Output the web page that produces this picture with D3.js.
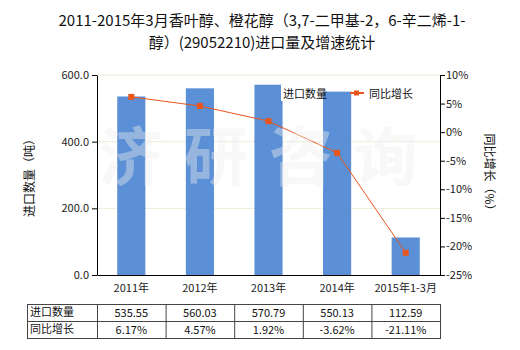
<!DOCTYPE html>
<html>
<head>
<meta charset="utf-8">
<script src="https://cdn.jsdelivr.net/npm/d3@7"></script>
<style>
  body { margin: 0; background: #fff; }
  svg { font-family: "Noto Sans CJK SC", "Noto Sans", sans-serif; }
</style>
</head>
<body>
<svg id="chart" width="520" height="350"></svg>
<script>
const categories = ['2011年', '2012年', '2013年', '2014年', '2015年1-3月'];
const importQty = [535.55, 560.03, 570.79, 550.13, 112.59];
const growth = [6.17, 4.57, 1.92, -3.62, -21.11];
const qtyLabels = ['535.55', '560.03', '570.79', '550.13', '112.59'];
const growthLabels = ['6.17%', '4.57%', '1.92%', '-3.62%', '-21.11%'];
const leftTicks = [0, 200, 400, 600];
const rightTicks = [10, 5, 0, -5, -10, -15, -20, -25];

const svg = d3.select('#chart');
const margin = { top: 75, left: 97, right: 80, bottom: 75 };
const width = 520 - margin.left - margin.right;
const height = 350 - margin.top - margin.bottom;

const barColor = '#5b8fd6';
const lineColor = '#e8561e';

// title
const title = svg.append('text')
   .attr('text-anchor', 'middle')
   .attr('font-size', 15)
   .attr('fill', '#111');
title.append('tspan').attr('x', 262).attr('y', 26)
   .text('2011-2015年3月香叶醇、橙花醇（3,7-二甲基-2，6-辛二烯-1-');
title.append('tspan').attr('x', 262).attr('y', 48)
   .text('醇）(29052210)进口量及增速统计');

const g = svg.append('g').attr('transform', `translate(${margin.left},${margin.top})`);

const x = d3.scaleBand().domain(categories).range([0, width]).paddingInner(0.59).paddingOuter(0.295);
const xc = d3.scaleBand().domain(categories).range([0, width]);
const yL = d3.scaleLinear().domain([0, 600]).range([height, 0]);
const yR = d3.scaleLinear().domain([-25, 10]).range([height, 0]);

// grid
g.selectAll('.grid').data(leftTicks.filter(d => d > 0)).join('line')
   .attr('x1', 0).attr('x2', width)
   .attr('y1', d => yL(d)).attr('y2', d => yL(d))
   .attr('stroke', '#ecebd9').attr('stroke-width', 1);

// bars
g.selectAll('.bar').data(importQty).join('rect')
   .attr('x', (d, i) => x(categories[i]))
   .attr('width', x.bandwidth())
   .attr('y', d => yL(d))
   .attr('height', d => height - yL(d))
   .attr('fill', barColor);

// watermark, drawn over the bars like the original
svg.append('text')
   .attr('x', 99).attr('y', 180)
   .attr('font-size', 64).attr('font-weight', 'bold')
   .attr('fill', '#f0f0f0').attr('opacity', 0.4)
   .attr('letter-spacing', 21)
   .text('济研咨询');

// legend (white backgrounds behind text)
const lg = g.append('g').attr('transform', `translate(0,${93 - margin.top})`);
lg.append('rect').attr('x', 281 - margin.left).attr('y', -8).attr('width', 42).attr('height', 16).attr('fill', '#fff');
lg.append('rect').attr('x', 364 - margin.left).attr('y', -8).attr('width', 50).attr('height', 16).attr('fill', '#fff');
lg.append('rect').attr('x', 270 - margin.left).attr('y', -6).attr('width', 11).attr('height', 12).attr('fill', barColor);
lg.append('text').attr('x', 283 - margin.left).attr('y', 4.5).attr('font-size', 11).attr('fill', '#111').text('进口数量');
lg.append('line').attr('x1', 350 - margin.left).attr('x2', 364 - margin.left).attr('y1', 0).attr('y2', 0)
   .attr('stroke', lineColor).attr('stroke-width', 2);
lg.append('rect').attr('x', 354 - margin.left).attr('y', -2.5).attr('width', 5).attr('height', 5).attr('fill', lineColor);
lg.append('text').attr('x', 369 - margin.left).attr('y', 4.5).attr('font-size', 11).attr('fill', '#111').text('同比增长');

// line
const line = d3.line()
   .x((d, i) => xc(categories[i]) + xc.bandwidth() / 2)
   .y(d => yR(d));
g.append('path').datum(growth)
   .attr('d', line).attr('fill', 'none')
   .attr('stroke', lineColor).attr('stroke-width', 1);
g.selectAll('.pt').data(growth).join('rect')
   .attr('x', (d, i) => xc(categories[i]) + xc.bandwidth() / 2 - 3)
   .attr('y', d => yR(d) - 3)
   .attr('width', 6).attr('height', 6)
   .attr('fill', lineColor);

// axes
const leftAxis = g.append('g')
   .call(d3.axisLeft(yL).tickValues(leftTicks).tickFormat(d3.format('.1f')).tickSize(5).tickSizeOuter(0));
const rightAxis = g.append('g').attr('transform', `translate(${width},0)`)
   .call(d3.axisRight(yR).tickValues(rightTicks).tickFormat(d => d + '%').tickSize(5).tickSizeOuter(0));
const bottomAxis = g.append('g').attr('transform', `translate(0,${height})`)
   .call(d3.axisBottom(xc).tickSize(0).tickSizeOuter(0));
[leftAxis, rightAxis, bottomAxis].forEach(a => {
   a.selectAll('path, line').attr('stroke', '#000');
   a.selectAll('text').attr('font-size', 11).attr('fill', '#222')
      .attr('font-family', '"Noto Sans CJK SC", "Noto Sans", sans-serif');
});
bottomAxis.selectAll('text').attr('dy', '1.25em');
rightAxis.selectAll('text').attr('x', 6);

// axis titles
svg.append('text')
   .attr('transform', 'translate(34,175) rotate(-90)')
   .attr('text-anchor', 'middle').attr('font-size', 12).attr('fill', '#111')
   .text('进口数量（吨）');
svg.append('text')
   .attr('transform', 'translate(485,175) rotate(90)')
   .attr('text-anchor', 'middle').attr('font-size', 12).attr('fill', '#111')
   .text('同比增长（%）');

// data table
const tableTop = 304, rowH = 17, tableLeft = 27;
const colX = [tableLeft].concat(categories.map((c, i) => margin.left + xc(c)), [margin.left + width]);
const tg = svg.append('g');
const rows = [['进口数量', qtyLabels], ['同比增长', growthLabels]];
tg.append('rect')
   .attr('x', tableLeft + 0.5).attr('y', tableTop + 0.5)
   .attr('width', colX[colX.length - 1] - tableLeft).attr('height', rowH * 2)
   .attr('fill', 'none').attr('stroke', '#444');
tg.append('line')
   .attr('x1', tableLeft).attr('x2', colX[colX.length - 1])
   .attr('y1', tableTop + rowH + 0.5).attr('y2', tableTop + rowH + 0.5)
   .attr('stroke', '#444');
colX.slice(1, -1).forEach(cx => {
   tg.append('line').attr('x1', cx + 0.5).attr('x2', cx + 0.5)
      .attr('y1', tableTop).attr('y2', tableTop + rowH * 2)
      .attr('stroke', '#444');
});
rows.forEach((r, ri) => {
   const ty = tableTop + ri * rowH + 13;
   tg.append('text').attr('x', tableLeft + 3).attr('y', ty - 1)
      .attr('font-size', 11).attr('fill', '#111').text(r[0]);
   r[1].forEach((v, i) => {
      tg.append('text')
         .attr('x', margin.left + xc(categories[i]) + xc.bandwidth() / 2)
         .attr('y', ty).attr('text-anchor', 'middle')
         .attr('font-size', 11).attr('fill', '#111').text(v);
   });
});
</script>
</body>
</html>
